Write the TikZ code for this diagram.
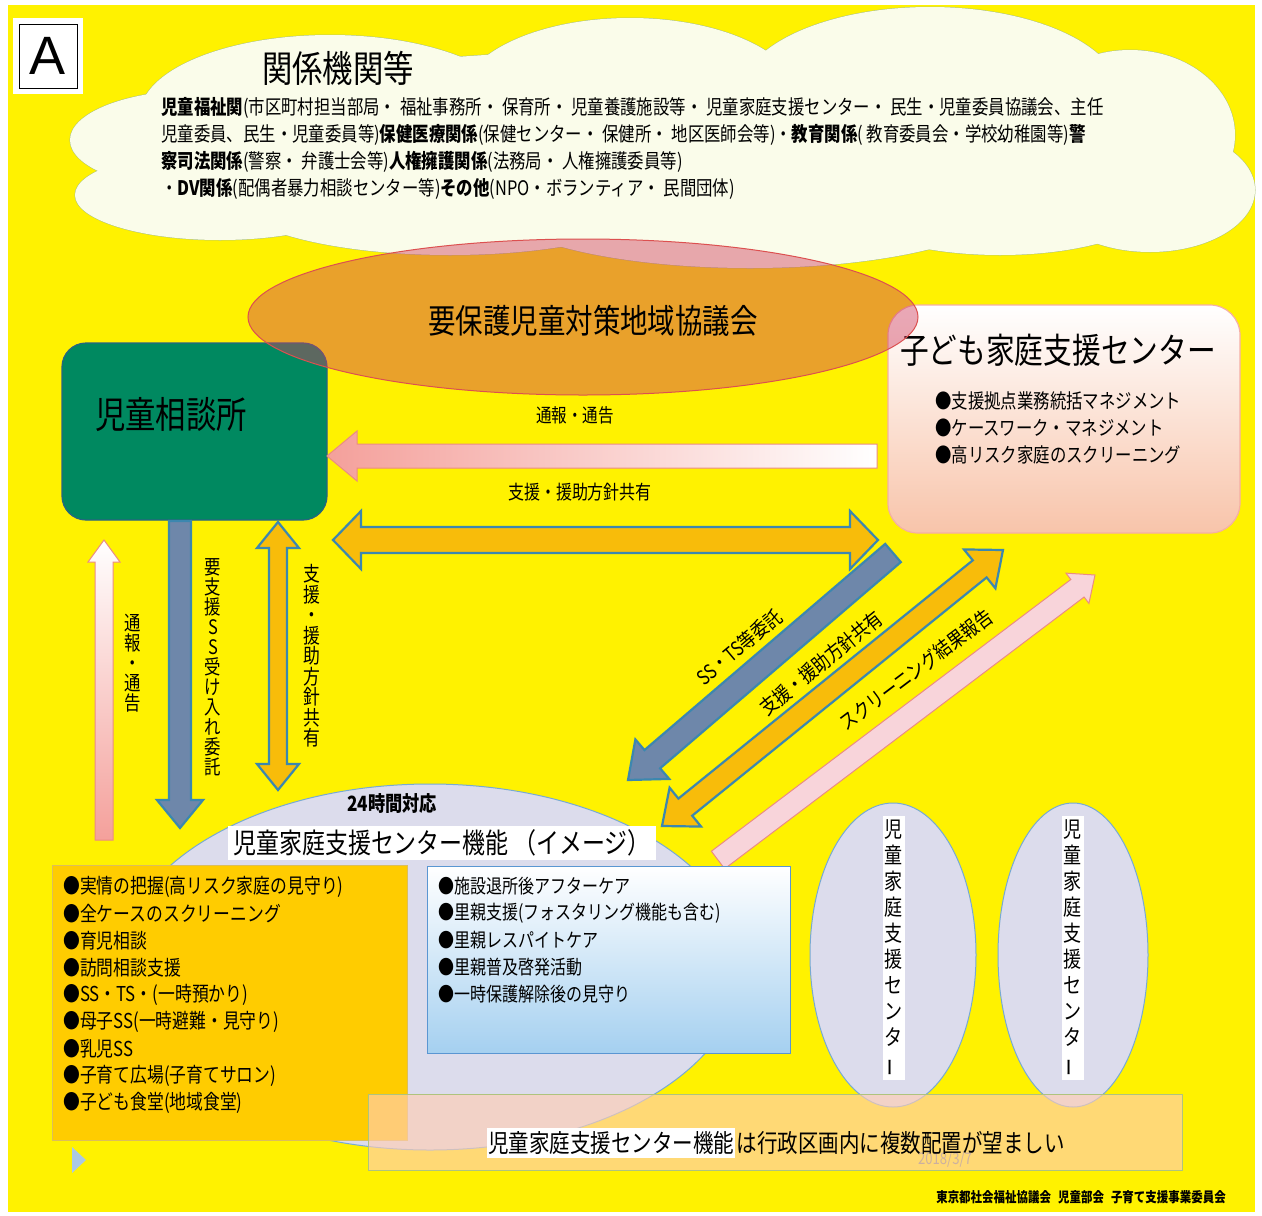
\documentclass[tikz,border=0pt]{standalone}
\usepackage{fontspec}
\usetikzlibrary{calc,shapes.geometric}
\newfontfamily\jp{Noto Sans CJK JP}[FakeStretch=0.82]
\newfontfamily\lsans{Liberation Sans}
\definecolor{bgyellow}{RGB}{255,242,0}
\definecolor{cloudfill}{RGB}{250,252,234}
\definecolor{cloudline}{RGB}{175,195,125}
\definecolor{jsogreen}{RGB}{0,137,96}
\definecolor{jsoline}{RGB}{40,100,130}
\definecolor{kdcline}{RGB}{245,175,165}
\definecolor{kdcbot}{RGB}{248,196,170}
\definecolor{orgfill}{RGB}{248,188,10}
\definecolor{arrline}{RGB}{60,135,175}
\definecolor{slatefill}{RGB}{110,135,170}
\definecolor{pinkA}{RGB}{244,160,155}
\definecolor{pinkB}{RGB}{248,212,218}
\definecolor{pinkline}{RGB}{235,140,130}
\definecolor{lav}{RGB}{220,220,236}
\definecolor{lavline}{RGB}{120,170,210}
\definecolor{boxorange}{RGB}{255,204,0}
\definecolor{bluebot}{RGB}{165,208,240}
\definecolor{blueline}{RGB}{90,150,210}
\definecolor{yoho}{RGB}{208,64,96}
\definecolor{yholine}{RGB}{220,80,80}
\definecolor{banner}{RGB}{255,205,180}
\definecolor{tri}{RGB}{170,200,228}
\definecolor{datecol}{RGB}{170,150,190}
\definecolor{oboxline}{RGB}{220,190,90}
\newcommand\jfs[1]{\fontsize{#1}{#1}\selectfont}
\newcommand\vbar{\rotatebox[origin=c]{90}{ー}}
\newcommand\oneway[6]{%
  \coordinate (hb) at ($(#3)!#6!(#2)$);
  \path[#1] ($(#2)!#4!90:(#3)$) -- ($(hb)!#4!90:(#3)$) -- ($(hb)!#5!90:(#3)$) -- (#3)
    -- ($(hb)!#5!-90:(#3)$) -- ($(hb)!#4!-90:(#3)$) -- ($(#2)!#4!-90:(#3)$) -- cycle;
}
\newcommand\twoway[6]{%
  \coordinate (ha) at ($(#2)!#6!(#3)$);
  \coordinate (hb) at ($(#3)!#6!(#2)$);
  \path[#1] (#2) -- ($(ha)!#5!90:(#3)$) -- ($(ha)!#4!90:(#3)$) -- ($(hb)!#4!90:(#3)$)
    -- ($(hb)!#5!90:(#3)$) -- (#3) -- ($(hb)!#5!-90:(#3)$) -- ($(hb)!#4!-90:(#3)$)
    -- ($(ha)!#4!-90:(#3)$) -- ($(ha)!#5!-90:(#3)$) -- cycle;
}
\tikzset{
  jtext/.style={font=\jp\jfs{#1}, inner sep=0pt, text=black},
  jtext/.default=20,
  vlabel/.style={font={\jp\fontsize{#1}{#1}\selectfont}, align=center, inner sep=0pt},
  orgarrow/.style={draw=arrline, line width=2.2pt, fill=orgfill, line join=miter},
  slatearrow/.style={draw=arrline, line width=2.2pt, fill=slatefill, line join=miter},
  pinkarrow/.style={draw=pinkline, line width=1pt},
}
\begin{document}
\begin{tikzpicture}[x=1pt,y=-1pt]
\useasboundingbox (0,0) rectangle (1262,1216);
\fill[white] (0,0) rectangle (1262,1216);
\fill[bgyellow] (8,5) rectangle (1255,1212);

% cloud
\def\cloudlist{330/115/190/80, 630/100/170/82, 930/95/190/88, 1130/135/105/85, 1150/190/105/62,
  200/140/130/50, 220/195/145/45, 450/195/220/60, 750/200/260/68, 1000/200/160/55, 650/140/500/90}
\foreach \cx/\cy/\rx/\ry in \cloudlist
  \draw[cloudline, line width=1pt] (\cx,\cy) ellipse [x radius=\rx, y radius=\ry];
\foreach \cx/\cy/\rx/\ry in \cloudlist
  \fill[cloudfill] (\cx,\cy) ellipse [x radius=\rx, y radius=\ry];

% A box
\fill[white] (13,18) rectangle (83,94);
\node[draw=black, line width=0.8pt, minimum width=58pt, minimum height=64pt, inner sep=0pt,
  font=\lsans\fontsize{54}{54}\selectfont] (abox) at (48,56) {A};

% cloud texts
\node[jtext=37] (kankei) at (338,68) {関係機関等};
\node[jtext=20, anchor=west] (cl1) at (161,108) {{\bfseries 児童福祉関}(市区町村担当部局・ 福祉事務所・ 保育所・ 児童養護施設等・ 児童家庭支援センター・ 民生・児童委員協議会、主任};
\node[jtext=20, anchor=west] (cl2) at (161,135) {児童委員、民生・児童委員等){\bfseries 保健医療関係}(保健センター・ 保健所・ 地区医師会等)・{\bfseries 教育関係}( 教育委員会・学校幼稚園等){\bfseries 警}};
\node[jtext=20, anchor=west] (cl3) at (161,162) {{\bfseries 察司法関係}(警察・ 弁護士会等){\bfseries 人権擁護関係}(法務局・ 人権擁護委員等)};
\node[jtext=20, anchor=west] (cl4) at (161,189) {・{\bfseries DV関係}(配偶者暴力相談センター等){\bfseries その他}(NPO・ボランティア・ 民間団体)};

% main boxes
\node[draw=jsoline, line width=1.2pt, fill=jsogreen, rounded corners=24pt,
  minimum width=265pt, minimum height=177pt] (jso) at (194.5,431.5) {};
\node[jtext=37] (jsot) at (171,415) {児童相談所};
\node[draw=kdcline, line width=1.2pt, top color=white, bottom color=kdcbot, rounded corners=30pt,
  minimum width=352pt, minimum height=228pt] (kdc) at (1064,419) {};
\node[jtext=35] (kdct) at (1058,350) {子ども家庭支援センター};
\node[jtext=20, anchor=west] (kb1) at (935,401) {●支援拠点業務統括マネジメント};
\node[jtext=20, anchor=west] (kb2) at (935,428) {●ケースワーク・マネジメント};
\node[jtext=20, anchor=west] (kb3) at (935,455) {●高リスク家庭のスクリーニング};

% 要保護 ellipse
\node[ellipse, draw=yholine, line width=1pt, fill=yoho, fill opacity=0.45,
  minimum width=670pt, minimum height=156pt] (yoho) at (583,317) {};
\node[jtext=33.5] (yohot) at (593,321) {要保護児童対策地域協議会};

% big lavender ellipse
\node[ellipse, draw=lavline, line width=1pt, fill=lav, minimum width=624pt, minimum height=366pt] (bigell) at (430,967) {};

% arrows
\coordinate (h1s) at (877,456); \coordinate (h1e) at (327,456);
\oneway{pinkarrow, left color=pinkA, right color=white}{h1s}{h1e}{12pt}{25pt}{30pt}
\coordinate (h2s) at (333,540); \coordinate (h2e) at (878,540);
\twoway{orgarrow}{h2s}{h2e}{13pt}{29pt}{28pt}
\coordinate (v1s) at (104,840); \coordinate (v1e) at (104,540);
\oneway{pinkarrow, top color=white, bottom color=pinkA}{v1s}{v1e}{9pt}{16pt}{22pt}
\coordinate (v2s) at (180,521); \coordinate (v2e) at (180,828);
\oneway{slatearrow}{v2s}{v2e}{11pt}{23pt}{28pt}
\coordinate (v3s) at (278,522); \coordinate (v3e) at (278,790);
\twoway{orgarrow}{v3s}{v3e}{9pt}{21pt}{26pt}
\coordinate (d1s) at (893,553); \coordinate (d1e) at (628,780);
\oneway{slatearrow}{d1s}{d1e}{12pt}{26pt}{32pt}
\coordinate (d2s) at (662,826); \coordinate (d2e) at (1003,550);
\twoway{orgarrow}{d2s}{d2e}{11pt}{25pt}{30pt}
\coordinate (d3s) at (718,860); \coordinate (d3e) at (1095,575);
\oneway{pinkarrow, fill=pinkB}{d3s}{d3e}{11pt}{19pt}{22pt}

% arrow labels
\node[jtext=19] (lb1) at (575,415) {通報・通告};
\node[jtext=19.5] (lb2) at (580,492) {支援・援助方針共有};
\node[vlabel=20] (lb3) at (133,663) {通\\報\\・\\通\\告};
\node[vlabel=20] (lb4) at (213,667) {要\\支\\援\\S\\S\\受\\け\\入\\れ\\委\\託};
\node[vlabel=20.5] (lb5) at (312,656) {支\\援\\・\\援\\助\\方\\針\\共\\有};
\node[jtext=20, rotate=40] (lb6) at (739,647) {SS・TS等委託};
\node[jtext=20.5, rotate=39] (lb7) at (821,663) {支援・援助方針共有};
\node[jtext=20.5, rotate=37] (lb8) at (916,670) {スクリーニング結果報告};

% 24h area
\node[jtext=21, font=\jp\bfseries\jfs{21}] (h24) at (392,803) {24時間対応};
\node[jtext=28, fill=white, inner xsep=5pt, inner ysep=4pt] (kfunc) at (442,843) {児童家庭支援センター機能\,（イメージ）};

\node[fill=boxorange, draw=oboxline, line width=0.5pt,
  minimum width=355pt, minimum height=275pt] (obox) at (229.5,1002.5) {};
\foreach \t [count=\i from 0] in {●実情の把握(高リスク家庭の見守り), ●全ケースのスクリーニング, ●育児相談, ●訪問相談支援,
  ●SS・TS・(一時預かり), ●母子SS(一時避難・見守り), ●乳児SS, ●子育て広場(子育てサロン), ●子ども食堂(地域食堂)}
  \node[jtext=20.5, anchor=west] (ob\i) at (63,887+27*\i) {\t};

\node[draw=blueline, line width=1pt, top color=white, bottom color=bluebot,
  minimum width=363pt, minimum height=187pt] (bbox) at (608.5,959.5) {};
\foreach \t [count=\i from 0] in {●施設退所後アフターケア, ●里親支援(フォスタリング機能も含む), ●里親レスパイトケア,
  ●里親普及啓発活動, ●一時保護解除後の見守り}
  \node[jtext=19.5, anchor=west] (bb\i) at (438,886+27*\i) {\t};

% small ellipses
\node[ellipse, draw=lavline, line width=1pt, fill=lav, minimum width=166pt, minimum height=304pt] (se1) at (893,955) {};
\node[ellipse, draw=lavline, line width=1pt, fill=lav, minimum width=150pt, minimum height=304pt] (se2) at (1073,955) {};
\node[vlabel=22, fill=white, inner xsep=2pt, inner ysep=4pt, font={\jp\fontsize{22}{26}\selectfont}] (se1t) at (894,948)
  {児\\童\\家\\庭\\支\\援\\セ\\ン\\タ\\\vbar};
\node[vlabel=22, fill=white, inner xsep=2pt, inner ysep=4pt, font={\jp\fontsize{22}{26}\selectfont}] (se2t) at (1073,948)
  {児\\童\\家\\庭\\支\\援\\セ\\ン\\タ\\\vbar};

% banner
\node[draw=cloudline, line width=0.8pt, fill=banner, fill opacity=0.65, minimum width=814pt, minimum height=76pt] (banner) at (775,1132) {};
\node[jtext=16, text=datecol, opacity=0.6] (date) at (945,1160) {2018/3/7};
\node[jtext=25, fill=white, anchor=west, inner xsep=1pt, inner ysep=3pt] (bt1) at (487,1143) {児童家庭支援センター機能};
\node[jtext=25, anchor=west, inner xsep=1pt] (bt2) at (bt1.east) {は行政区画内に複数配置が望ましい};

% small triangle
\fill[tri] (72,1147) -- (86,1160) -- (72,1173) -- cycle;

% footer
\node[jtext=14, font=\jp\bfseries\jfs{14}, anchor=east] (foot) at (1226,1197) {東京都社会福祉協議会\enspace 児童部会\enspace 子育て支援事業委員会};
\end{tikzpicture}
\end{document}
